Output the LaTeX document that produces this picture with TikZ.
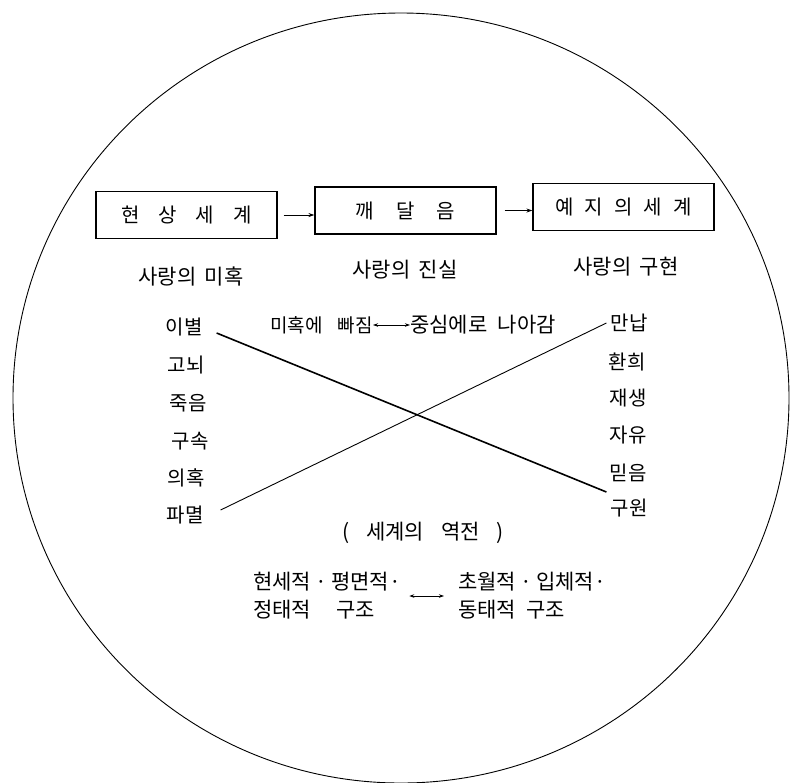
\documentclass[tikz,border=0pt]{standalone}
\usepackage{fontspec}
\setmainfont{Noto Sans CJK KR}
\usetikzlibrary{arrows.meta,calc}
\begin{document}
\begin{tikzpicture}[x=1pt,y=-1pt,
  box/.style={draw,line width=1.1pt,minimum width=181pt,minimum height=47pt,inner sep=0pt,font=\fontsize{20}{22}\selectfont},
  lbl/.style={inner sep=0pt,font=\fontsize{21}{24}\selectfont},
  word/.style={inner sep=0pt,font=\fontsize{20}{22}\selectfont},
  mid/.style={inner sep=0pt,font=\fontsize{19}{22}\selectfont},
  blk/.style={inner sep=0pt,align=left,font=\fontsize{21}{28}\selectfont},
  arr/.style={-{Stealth[length=6pt,width=4pt]},line width=0.8pt},
  darr/.style={{Stealth[length=5pt,width=3.5pt]}-{Stealth[length=5pt,width=3.5pt]},line width=0.8pt},
  thick line/.style={line width=1.6pt},
  thin line/.style={line width=0.9pt}
]
\useasboundingbox (0,0) rectangle (791,782);
\draw[line width=0.9pt] (401,398) ellipse [x radius=388pt, y radius=385pt];

% boxes
\node[box] (b1) at (186.5,215) {현\hspace{0.95em}상\hspace{0.95em}세\hspace{0.95em}계};
\node[box] (b2) at (405.5,210.5) {깨\hspace{1.1em}달\hspace{1.1em}음};
\node[box] (b3) at (623.5,207) {예\hspace{0.55em}지\hspace{0.55em}의\hspace{0.55em}세\hspace{0.55em}계};
\draw[arr,shorten <=6pt] (b1.east) -- (b1.east -| b2.west);
\draw[arr,shorten <=8pt] (b2.east) -- (b2.east -| b3.west);

% labels
\node[lbl] (s1) at (191,277) {사랑의\hspace{0.4em}미혹};
\node[lbl] (s2) at (405,270) {사랑의\hspace{0.4em}진실};
\node[lbl] (s3) at (626,267) {사랑의\hspace{0.4em}구현};

% left column
\node[word] (l1) at (184,327) {이별};
\node[word] (l2) at (186,365) {고뇌};
\node[word] (l3) at (188,403) {죽음};
\node[word] (l4) at (190,441) {구속};
\node[word] (l5) at (186,478) {의혹};
\node[word] (l6) at (185,515) {파멸};

% right column
\node[word] (r1) at (629,323) {만납};
\node[word] (r2) at (627,362) {환희};
\node[word] (r3) at (628,398) {재생};
\node[word] (r4) at (628,435) {자유};
\node[word] (r5) at (628,473) {믿음};
\node[word] (r6) at (629,508) {구원};

% crossing lines
\draw[thick line] ([shift={(14,6)}]l1.east) -- ([shift={(-4,-16)}]r6.west);
\draw[thin line] ([shift={(17,-5)}]l6.east) -- ([shift={(-4,0)}]r1.west);

% middle phrase
\node[mid,anchor=east] (mi) at (373,325) {미혹에\hspace{0.8em}빠짐};
\node[mid,anchor=west,font=\fontsize{21}{22}\selectfont] (jung) at (410,325) {중심에로\hspace{0.5em}나아감};
\draw[darr] (mi.east) -- (jung.west);

% reversal
\node[lbl] (rev) at (423,533) {(\hspace{0.8em}세계의\hspace{0.8em}역전\hspace{0.8em})};

% bottom blocks
\node[blk,anchor=west] (lb) at (253,596) {현세적\hspace{0.2em}·\hspace{0.2em}평면적·\\정태적\hspace{1.2em}구조};
\node[blk,anchor=west] (rb) at (458,596) {초월적\hspace{0.2em}·\hspace{0.2em}입체적·\\동태적\hspace{0.5em}구조};
\draw[darr] ([xshift=8pt]lb.east) -- ([xshift=-14pt]rb.west);
\end{tikzpicture}
\end{document}
